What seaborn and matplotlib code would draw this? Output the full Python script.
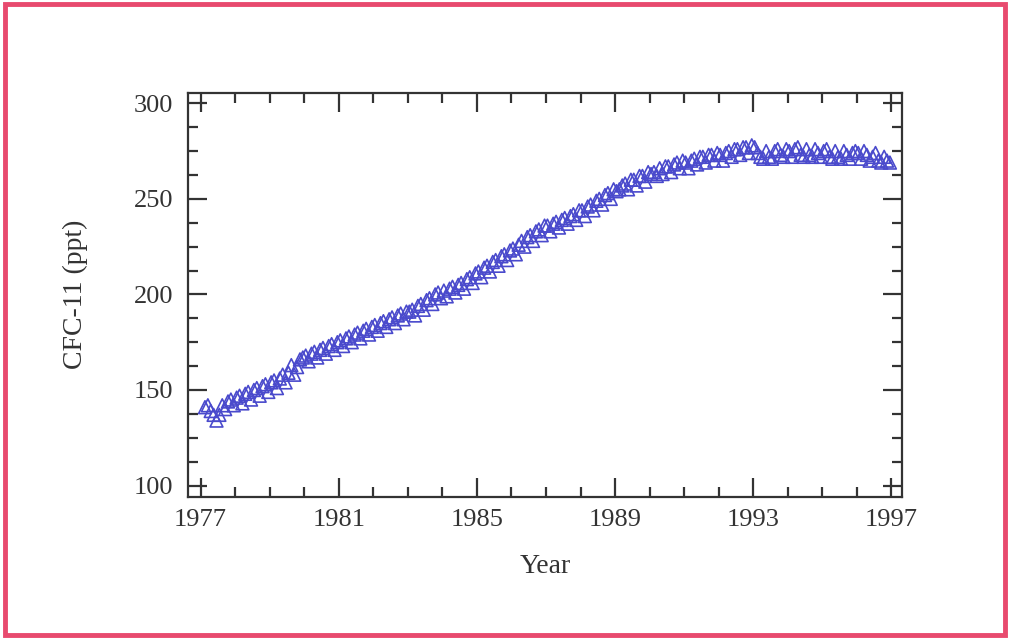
import numpy as np
import pandas as pd
import matplotlib
matplotlib.use("Agg")
import matplotlib.pyplot as plt
from matplotlib.ticker import MultipleLocator
from matplotlib.patches import Rectangle
import seaborn as sns

# Monthly CFC-11 mixing ratios (ppt), Feb 1977 .. Dec 1996
cfc_1977 = [141, 142, 139, 137, 134, 137, 142, 140, 144, 145, 142]
cfc_1978 = [146, 147, 143, 148, 149, 145, 150, 151, 147, 152, 153, 149]
cfc_1979 = [154, 155, 151, 156, 158, 154, 159, 163, 158, 162, 166, 167]
cfc_1980 = [168, 165, 169, 170, 167, 171, 172, 169, 173, 174, 171, 175]
cfc_1981 = [176, 173, 177, 178, 175, 179, 180, 177, 181, 182, 179, 183]
cfc_1982 = [184, 181, 185, 186, 183, 187, 188, 185, 189, 190, 187, 191]
cfc_1983 = [191, 192, 189, 194, 195, 192, 197, 198, 195, 200, 201, 198]
cfc_1984 = [202, 199, 203, 204, 201, 205, 206, 203, 208, 209, 206, 211]
cfc_1985 = [212, 209, 214, 215, 212, 217, 218, 215, 220, 221, 218, 223]
cfc_1986 = [224, 221, 226, 228, 225, 230, 231, 228, 233, 234, 231, 236]
cfc_1987 = [236, 233, 237, 238, 235, 239, 240, 237, 241, 242, 239, 244]
cfc_1988 = [244, 241, 246, 247, 244, 249, 250, 247, 252, 253, 250, 255]
cfc_1989 = [254, 255, 257, 258, 255, 260, 260, 257, 262, 262, 259, 264]
cfc_1990 = [263, 264, 262, 266, 263, 267, 267, 264, 268, 269, 266, 270]
cfc_1991 = [269, 266, 270, 271, 268, 272, 272, 269, 273, 273, 270, 274]
cfc_1992 = [273, 270, 274, 275, 272, 276, 276, 273, 277, 277, 274, 278]
cfc_1993 = [277, 274, 272, 271, 275, 272, 271, 275, 276, 273, 272, 276]
cfc_1994 = [275, 272, 276, 277, 273, 272, 276, 273, 272, 276, 274, 272]
cfc_1995 = [275, 276, 272, 271, 275, 272, 271, 275, 273, 271, 274, 275]
cfc_1996 = [274, 271, 275, 273, 270, 272, 274, 270, 269, 272, 270, 269]

yearly = [cfc_1977, cfc_1978, cfc_1979, cfc_1980, cfc_1981, cfc_1982, cfc_1983,
          cfc_1984, cfc_1985, cfc_1986, cfc_1987, cfc_1988, cfc_1989, cfc_1990,
          cfc_1991, cfc_1992, cfc_1993, cfc_1994, cfc_1995, cfc_1996]
first_year = 1977

years, values = [], []
for i, vals in enumerate(yearly):
    start_month = 12 - len(vals)
    for j, v in enumerate(vals):
        years.append(first_year + i + (start_month + j + 0.5) / 12.0)
        values.append(v)
df = pd.DataFrame({"Year": years, "CFC": values})

xticks = [1977, 1981, 1985, 1989, 1993, 1997]
yticks = [100, 150, 200, 250, 300]

sns.set_theme(style="ticks")
plt.rcParams['font.family'] = ['Liberation Serif', 'DejaVu Serif']

fig = plt.figure(figsize=(10.12, 6.4), dpi=100)
ax = fig.add_axes([0.186, 0.224, 0.705, 0.631])

sns.scatterplot(data=df, x="Year", y="CFC", ax=ax, marker="^", s=85,
                facecolors="none", edgecolor="#4a4acc", linewidth=1.2)

ax.set_xlim(1976.64, 1997.3)
ax.set_ylim(94.2, 305.5)
ax.set_xticks(xticks)
ax.set_yticks(yticks)
ax.xaxis.set_minor_locator(MultipleLocator(1))
ax.yaxis.set_minor_locator(MultipleLocator(12.5))
ax.tick_params(which="both", direction="in", top=True, right=True,
               width=1.6, color="#333333", labelsize=19, labelcolor="#333333")
ax.tick_params(axis="x", pad=9)
ax.tick_params(axis="y", pad=11)
ax.tick_params(which="major", length=14)
ax.tick_params(which="minor", length=7)
for sp in ax.spines.values():
    sp.set_linewidth(1.6)
    sp.set_color("#333333")

ax.set_xlabel("Year", fontsize=20, color="#333333")
ax.set_ylabel("CFC-11 (ppt)", fontsize=20, color="#333333")
ax.xaxis.set_label_coords(0.5, -0.143)
ax.yaxis.set_label_coords(-0.14, 0.5)

fig.patches.append(Rectangle((0.005, 0.008), 0.988, 0.985, transform=fig.transFigure,
                             fill=False, edgecolor="#e84a6e", linewidth=3.5))

fig.savefig("out.png", dpi=100)
